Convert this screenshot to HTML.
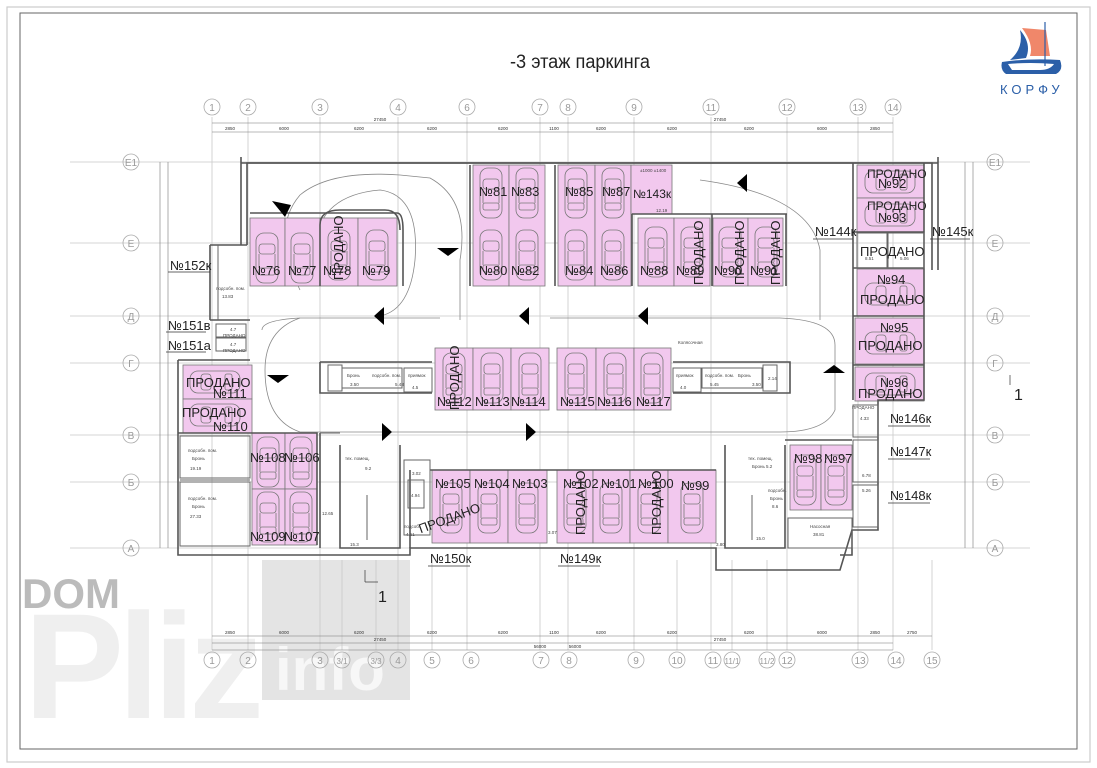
<!DOCTYPE html>
<html><head><meta charset="utf-8"><style>
html,body{margin:0;padding:0;background:#fff;}
svg{display:block;font-family:"Liberation Sans",sans-serif;}
.g{stroke:#c8c8c8;stroke-width:0.8;fill:none}
.w{stroke:#555;stroke-width:1.6;fill:none}
.wt{stroke:#666;stroke-width:1;fill:none}
.p{fill:#f2c8ee;stroke:#777;stroke-width:0.8}
.lb{font-size:13px;fill:#222;}
.sm{font-size:4.5px;fill:#444}
.ax{fill:none;stroke:#aaa;stroke-width:0.8}
.axt{font-size:10px;fill:#999;text-anchor:middle}
.dim{font-size:4.5px;fill:#333;text-anchor:middle}
.car{fill:none;stroke:#777;stroke-width:0.8}
.arc{fill:none;stroke:#888;stroke-width:0.8}
</style></head><body>
<svg width="1097" height="768" viewBox="0 0 1097 768" xmlns="http://www.w3.org/2000/svg">
<defs>
<g id="car"><rect x="-11" y="-25" width="22" height="50" rx="8" class="car"/><rect x="-8" y="-14" width="16" height="10" rx="3" class="car"/><rect x="-8" y="10" width="16" height="7" rx="2" class="car"/><line x1="-8" y1="-4" x2="-8" y2="10" class="car"/><line x1="8" y1="-4" x2="8" y2="10" class="car"/></g>
<g id="carh"><rect x="-25" y="-11" width="50" height="22" rx="8" class="car"/><rect x="-14" y="-8" width="10" height="16" rx="3" class="car"/><rect x="10" y="-8" width="7" height="16" rx="2" class="car"/></g>
</defs>
<!-- frames -->
<rect x="7" y="7" width="1083" height="755" fill="none" stroke="#ccc" stroke-width="1.2"/>
<rect x="20" y="13" width="1057" height="736" fill="none" stroke="#666" stroke-width="1"/>
<!-- watermark -->
<text x="22" y="608" font-size="42" font-weight="bold" fill="#bbb">DOM</text>
<rect x="262" y="560" width="148" height="140" fill="#e4e4e4"/>
<text x="24" y="718" font-size="150" font-weight="bold" fill="#efefef" textLength="240">Pliz</text>
<text x="275" y="690" font-size="60" font-weight="bold" fill="#f7f7f7">info</text>
<!-- title -->
<text x="510" y="68" font-size="19" fill="#222" textLength="140" lengthAdjust="spacingAndGlyphs">-3 этаж  паркинга</text>
<!-- logo -->
<path d="M1022 28 L1046 30 L1050 56 L1030 56 Q1034 44 1022 28Z" fill="#f0876a"/>
<path d="M1020 30 Q1032 44 1026 58 L1010 60 Q1024 48 1020 30Z" fill="#2b5fa8"/>
<path d="M1002 62 Q1030 58 1060 60 Q1064 70 1056 74 L1006 74 Q1000 70 1002 62Z" fill="#2b5fa8"/>
<path d="M1008 64 Q1030 62 1054 64 Q1050 70 1040 70 L1012 70Z" fill="#fff"/>
<line x1="1045" y1="22" x2="1045" y2="66" stroke="#2b5fa8" stroke-width="1.2"/>
<text x="1000" y="94" font-size="13" fill="#2b5fa8" letter-spacing="4">КОРФУ</text>
<!-- grid lines -->
<g class="g">
<line x1="212" y1="117" x2="212" y2="650"/><line x1="248" y1="117" x2="248" y2="650"/><line x1="320" y1="117" x2="320" y2="650"/>
<line x1="398" y1="117" x2="398" y2="650"/><line x1="467" y1="117" x2="467" y2="650"/><line x1="540" y1="117" x2="540" y2="650"/>
<line x1="568" y1="117" x2="568" y2="650"/><line x1="634" y1="117" x2="634" y2="650"/><line x1="711" y1="117" x2="711" y2="650"/>
<line x1="787" y1="117" x2="787" y2="650"/><line x1="858" y1="117" x2="858" y2="650"/><line x1="893" y1="117" x2="893" y2="650"/>
<line x1="342" y1="560" x2="342" y2="650"/><line x1="376" y1="560" x2="376" y2="650"/><line x1="432" y1="560" x2="432" y2="650"/>
<line x1="677" y1="560" x2="677" y2="650"/><line x1="732" y1="560" x2="732" y2="650"/><line x1="767" y1="560" x2="767" y2="650"/><line x1="932" y1="560" x2="932" y2="650"/>
<line x1="70" y1="162" x2="1030" y2="162"/><line x1="70" y1="243" x2="1030" y2="243"/><line x1="70" y1="316" x2="1030" y2="316"/>
<line x1="70" y1="363" x2="1030" y2="363"/><line x1="70" y1="435" x2="1030" y2="435"/><line x1="70" y1="482" x2="1030" y2="482"/><line x1="70" y1="548" x2="1030" y2="548"/>
</g>
<!-- axis bubbles -->
<g class="ax">
<circle cx="212" cy="107" r="8"/><circle cx="248" cy="107" r="8"/><circle cx="320" cy="107" r="8"/><circle cx="398" cy="107" r="8"/><circle cx="467" cy="107" r="8"/><circle cx="540" cy="107" r="8"/><circle cx="568" cy="107" r="8"/><circle cx="634" cy="107" r="8"/><circle cx="711" cy="107" r="8"/><circle cx="787" cy="107" r="8"/><circle cx="858" cy="107" r="8"/><circle cx="893" cy="107" r="8"/>
<circle cx="212" cy="660" r="8"/><circle cx="248" cy="660" r="8"/><circle cx="320" cy="660" r="8"/><circle cx="342" cy="660" r="8"/><circle cx="376" cy="660" r="8"/><circle cx="398" cy="660" r="8"/><circle cx="432" cy="660" r="8"/><circle cx="471" cy="660" r="8"/><circle cx="541" cy="660" r="8"/><circle cx="569" cy="660" r="8"/><circle cx="636" cy="660" r="8"/><circle cx="677" cy="660" r="8"/><circle cx="713" cy="660" r="8"/><circle cx="732" cy="660" r="8"/><circle cx="767" cy="660" r="8"/><circle cx="787" cy="660" r="8"/><circle cx="860" cy="660" r="8"/><circle cx="896" cy="660" r="8"/><circle cx="932" cy="660" r="8"/>
<circle cx="131" cy="162" r="8"/><circle cx="131" cy="243" r="8"/><circle cx="131" cy="316" r="8"/><circle cx="131" cy="363" r="8"/><circle cx="131" cy="435" r="8"/><circle cx="131" cy="482" r="8"/><circle cx="131" cy="548" r="8"/>
<circle cx="995" cy="162" r="8"/><circle cx="995" cy="243" r="8"/><circle cx="995" cy="316" r="8"/><circle cx="995" cy="363" r="8"/><circle cx="995" cy="435" r="8"/><circle cx="995" cy="482" r="8"/><circle cx="995" cy="548" r="8"/>
</g>
<g class="axt">
<text x="212" y="111">1</text><text x="248" y="111">2</text><text x="320" y="111">3</text><text x="398" y="111">4</text><text x="467" y="111">6</text><text x="540" y="111">7</text><text x="568" y="111">8</text><text x="634" y="111">9</text><text x="711" y="111">11</text><text x="787" y="111">12</text><text x="858" y="111">13</text><text x="893" y="111">14</text>
<text x="212" y="664">1</text><text x="248" y="664">2</text><text x="320" y="664">3</text><text x="342" y="664" font-size="8">3/1</text><text x="376" y="664" font-size="8">3/3</text><text x="398" y="664">4</text><text x="432" y="664">5</text><text x="471" y="664">6</text><text x="541" y="664">7</text><text x="569" y="664">8</text><text x="636" y="664">9</text><text x="677" y="664">10</text><text x="713" y="664">11</text><text x="732" y="664" font-size="8">11/1</text><text x="767" y="664" font-size="8">11/2</text><text x="787" y="664">12</text><text x="860" y="664">13</text><text x="896" y="664">14</text><text x="932" y="664">15</text>
<text x="131" y="166">Е1</text><text x="131" y="247">Е</text><text x="131" y="320">Д</text><text x="131" y="367">Г</text><text x="131" y="439">В</text><text x="131" y="486">Б</text><text x="131" y="552">А</text>
<text x="995" y="166">Е1</text><text x="995" y="247">Е</text><text x="995" y="320">Д</text><text x="995" y="367">Г</text><text x="995" y="439">В</text><text x="995" y="486">Б</text><text x="995" y="552">А</text>
</g>
<!-- dimension lines -->
<g stroke="#777" stroke-width="0.6">
<line x1="212" y1="123" x2="893" y2="123"/><line x1="212" y1="132" x2="893" y2="132"/>
<line x1="212" y1="636" x2="932" y2="636"/><line x1="212" y1="643" x2="893" y2="643"/><line x1="212" y1="650" x2="893" y2="650"/>
<line x1="160" y1="162" x2="160" y2="548"/><line x1="168" y1="162" x2="168" y2="548"/>
<line x1="965" y1="162" x2="965" y2="548"/><line x1="973" y1="162" x2="973" y2="548"/>
</g>
<g class="dim">
<text x="380" y="121">27450</text><text x="720" y="121">27450</text>
<text x="230" y="130">2850</text><text x="284" y="130">6000</text><text x="359" y="130">6200</text><text x="432" y="130">6200</text><text x="503" y="130">6200</text><text x="554" y="130">1100</text><text x="601" y="130">6200</text><text x="672" y="130">6200</text><text x="749" y="130">6200</text><text x="822" y="130">6000</text><text x="875" y="130">2850</text>
<text x="230" y="634">2850</text><text x="284" y="634">6000</text><text x="359" y="634">6200</text><text x="432" y="634">6200</text><text x="503" y="634">6200</text><text x="554" y="634">1100</text><text x="601" y="634">6200</text><text x="672" y="634">6200</text><text x="749" y="634">6200</text><text x="822" y="634">6000</text><text x="875" y="634">2850</text><text x="912" y="634">2750</text>
<text x="380" y="641">27450</text><text x="720" y="641">27450</text><text x="540" y="648">56000</text><text x="575" y="648">56000</text>
</g>
<!-- ramps curves -->
<path class="arc" d="M300 290 Q270 230 300 195 Q330 170 400 175 L430 178 Q470 200 460 260 L460 320"/>
<path class="arc" d="M315 245 Q320 195 380 190 Q420 195 415 260 Q410 310 380 316"/>
<path class="arc" d="M262 330 Q262 320 300 318 L440 318"/>
<path class="arc" d="M300 318 Q265 330 265 370 Q265 420 300 432 L440 432"/>
<path class="arc" d="M700 180 Q810 195 820 250 L820 320"/>
<path class="arc" d="M780 318 Q835 320 835 345 L835 410 Q825 432 780 432 L440 432"/>
<path class="arc" d="M550 318 L780 318"/>
<line x1="540" y1="170" x2="540" y2="213" stroke="#888" stroke-width="0.6"/>
<!-- pink spots -->
<g class="p">
<rect x="250" y="218" width="35" height="68"/><rect x="285" y="218" width="35" height="68"/><rect x="320" y="218" width="38" height="68"/><rect x="358" y="218" width="39" height="68"/>
<rect x="473" y="165" width="36" height="121"/><rect x="509" y="165" width="36" height="121"/>
<rect x="558" y="165" width="37" height="121"/><rect x="595" y="165" width="36" height="121"/>
<rect x="631" y="165" width="41" height="49"/>
<rect x="638" y="218" width="36" height="68"/><rect x="674" y="218" width="36" height="68"/><rect x="713" y="218" width="35" height="68"/><rect x="748" y="218" width="35" height="68"/>
<rect x="857" y="165" width="67" height="33"/><rect x="857" y="198" width="67" height="34"/>
<rect x="857" y="269" width="67" height="47"/><rect x="855" y="318" width="69" height="46"/><rect x="855" y="367" width="69" height="34"/>
<rect x="435" y="348" width="38" height="62"/><rect x="473" y="348" width="38" height="62"/><rect x="511" y="348" width="38" height="62"/>
<rect x="557" y="348" width="39" height="62"/><rect x="596" y="348" width="38" height="62"/><rect x="634" y="348" width="37" height="62"/>
<rect x="183" y="365" width="69" height="34"/><rect x="183" y="399" width="69" height="34"/>
<rect x="252" y="433" width="33" height="56"/><rect x="285" y="433" width="32" height="56"/><rect x="252" y="489" width="33" height="56"/><rect x="285" y="489" width="32" height="56"/>
<rect x="432" y="470" width="38" height="73"/><rect x="470" y="470" width="38" height="73"/><rect x="508" y="470" width="39" height="73"/>
<rect x="557" y="470" width="36" height="73"/><rect x="593" y="470" width="37" height="73"/><rect x="630" y="470" width="38" height="73"/><rect x="668" y="470" width="48" height="73"/>
<rect x="790" y="445" width="31" height="65"/><rect x="821" y="445" width="31" height="65"/>
</g>
<!-- cars -->
<g>
<use href="#car" x="267" y="258"/><use href="#car" x="302" y="258"/><use href="#car" x="339" y="255"/><use href="#car" x="377" y="255"/>
<use href="#car" x="491" y="193"/><use href="#car" x="527" y="193"/><use href="#car" x="491" y="255"/><use href="#car" x="527" y="255"/>
<use href="#car" x="576" y="193"/><use href="#car" x="613" y="193"/><use href="#car" x="576" y="255"/><use href="#car" x="613" y="255"/>
<use href="#car" x="656" y="252"/><use href="#car" x="692" y="252"/><use href="#car" x="730" y="252"/><use href="#car" x="766" y="252"/>
<use href="#carh" x="890" y="182"/><use href="#carh" x="890" y="215"/><use href="#carh" x="890" y="294"/><use href="#carh" x="890" y="343"/><use href="#carh" x="890" y="384"/>
<use href="#car" x="454" y="378"/><use href="#car" x="492" y="378"/><use href="#car" x="530" y="378"/><use href="#car" x="576" y="378"/><use href="#car" x="615" y="378"/><use href="#car" x="652" y="378"/>
<use href="#carh" x="215" y="382"/><use href="#carh" x="215" y="415"/>
<use href="#car" x="268" y="462"/><use href="#car" x="301" y="462"/><use href="#car" x="268" y="517"/><use href="#car" x="301" y="517"/>
<use href="#car" x="451" y="508"/><use href="#car" x="489" y="508"/><use href="#car" x="527" y="508"/><use href="#car" x="575" y="508"/><use href="#car" x="611" y="508"/><use href="#car" x="649" y="508"/><use href="#car" x="692" y="508"/>
<use href="#car" x="805" y="480"/><use href="#car" x="836" y="480"/>
</g>
<!-- walls -->
<g class="w">
<path d="M247 245 L247 163 L932 163 L932 270"/>
<path d="M241 163 L938 163 M241 157 L241 245 M938 157 L938 270"/>
<path d="M210 245 L247 245 M210 245 L210 320 M178 360 L178 555 L320 555 M210 320 L250 320"/>
<path d="M178 360 L250 360 M178 433 L252 433"/>
<path d="M250 213 L397 213 Q403 213 403 230 L403 286"/>
<path d="M320 286 L320 225 Q320 210 340 210 L385 210 Q400 210 400 230"/>
<path d="M470 165 L470 286 M555 165 L555 286 M632 214 L632 286 M712 214 L712 286 M786 214 L786 286"/>
<path d="M632 214 L787 214"/>
<path d="M853 163 L853 400 M853 232 L924 232 M853 268 L924 268 M853 316 L924 316 M853 365 L924 365"/>
<path d="M924 163 L924 400 L878 400 L878 530 L852 530 L852 555 L840 555"/>
<path d="M320 555 L410 555 L410 548 L716 548 L716 570 L840 570 L852 530"/>
<path d="M320 362 L432 362 M320 362 L320 393 L432 393 M673 362 L790 362 L790 393 L673 393"/>
<path d="M320 433 L320 548 M340 445 L340 548 L400 548 L400 445 M410 470 L410 548 M430 470 L716 470"/>
<path d="M725 445 L725 548 L785 548 L785 445 M785 440 L852 440"/>
<path d="M252 433 L317 433 L317 545"/>
</g>
<g class="wt">
<path d="M218 245 L218 320 M180 480 L250 480 M320 433 L340 433"/>
<rect x="216" y="324" width="30" height="13"/><rect x="216" y="338" width="30" height="13"/>
<rect x="328" y="365" width="14" height="26"/><rect x="342" y="368" width="60" height="20"/><rect x="404" y="368" width="28" height="24"/>
<rect x="673" y="368" width="28" height="24"/><rect x="702" y="368" width="60" height="20"/><rect x="763" y="365" width="14" height="26"/>
<rect x="404" y="460" width="26" height="75"/><rect x="408" y="480" width="16" height="28"/>
<rect x="788" y="518" width="64" height="30"/>
<rect x="857" y="233" width="30" height="35"/><rect x="888" y="233" width="36" height="35"/>
<rect x="853" y="405" width="25" height="32"/><rect x="853" y="440" width="25" height="42"/><rect x="853" y="485" width="25" height="42"/>
<line x1="367" y1="495" x2="367" y2="540"/><line x1="752" y1="495" x2="752" y2="540"/>
<rect x="180" y="436" width="70" height="42"/><rect x="180" y="482" width="70" height="64"/>
</g>
<!-- small texts -->
<g class="sm">
<text x="216" y="290">подсобн. пом.</text><text x="222" y="298">13.83</text>
<text x="230" y="331">4.7</text><text x="223" y="337">ПРОДАНО</text><text x="230" y="346">4.7</text><text x="223" y="352">ПРОДАНО</text>
<text x="347" y="377">Бронь</text><text x="372" y="377">подсобн. пом.</text><text x="350" y="386">3.50</text><text x="395" y="386">5.48</text><text x="408" y="377">приямок</text><text x="412" y="389">4.5</text>
<text x="676" y="377">приямок</text><text x="680" y="389">4.0</text><text x="705" y="377">подсобн. пом.</text><text x="738" y="377">Бронь</text><text x="710" y="386">5.45</text><text x="752" y="386">3.50</text><text x="768" y="380">2.14</text>
<text x="678" y="344">Колясочная</text>
<text x="188" y="452">подсобн. пом.</text><text x="192" y="460">Бронь</text><text x="190" y="470">19.19</text>
<text x="188" y="500">подсобн. пом.</text><text x="192" y="508">Бронь</text><text x="190" y="518">27.33</text>
<text x="345" y="460">тех. помещ.</text><text x="365" y="470">9.2</text><text x="322" y="515">12.65</text>
<text x="748" y="460">тех. помещ.</text><text x="752" y="468">Бронь 5.2</text><text x="768" y="492">подсобн.</text><text x="770" y="500">Бронь</text><text x="772" y="508">8.6</text>
<text x="810" y="528">Насосная</text><text x="813" y="536">38.81</text>
<text x="865" y="260">8.51</text><text x="900" y="260">5.06</text>
<text x="852" y="409">ПРОДАНО</text><text x="860" y="420">4.33</text><text x="862" y="477">6.78</text><text x="862" y="492">5.26</text>
<text x="412" y="475">3.02</text><text x="411" y="497">4.94</text><text x="404" y="528">подсоб.</text><text x="406" y="536">4.51</text>
<text x="548" y="534">3.07</text><text x="716" y="546">3.80</text><text x="756" y="540">15.0</text><text x="350" y="546">15.3</text>
<text x="640" y="172">±1000 ±1400</text><text x="656" y="212">12.19</text>
</g>
<!-- labels -->
<g class="lb">
<text x="252" y="275">№76</text><text x="288" y="275">№77</text><text x="323" y="275">№78</text><text x="362" y="275">№79</text>
<text x="479" y="196">№81</text><text x="511" y="196">№83</text><text x="479" y="275">№80</text><text x="511" y="275">№82</text>
<text x="565" y="196">№85</text><text x="602" y="196">№87</text><text x="565" y="275">№84</text><text x="600" y="275">№86</text>
<text x="633" y="198" font-size="12">№143к</text>
<text x="640" y="275">№88</text><text x="676" y="275">№89</text><text x="714" y="275">№90</text><text x="750" y="275">№91</text>
<text x="867" y="178" font-size="12">ПРОДАНО</text><text x="878" y="188">№92</text>
<text x="867" y="210" font-size="12">ПРОДАНО</text><text x="878" y="222">№93</text>
<text x="860" y="256">ПРОДАНО</text><text x="877" y="284">№94</text><text x="860" y="304">ПРОДАНО</text>
<text x="880" y="332">№95</text><text x="858" y="350">ПРОДАНО</text>
<text x="880" y="387">№96</text><text x="858" y="398">ПРОДАНО</text>
<text x="437" y="406">№112</text><text x="475" y="406">№113</text><text x="511" y="406">№114</text><text x="560" y="406">№115</text><text x="597" y="406">№116</text><text x="636" y="406">№117</text>
<text x="186" y="387">ПРОДАНО</text><text x="213" y="398">№111</text>
<text x="182" y="417">ПРОДАНО</text><text x="213" y="431">№110</text>
<text x="250" y="462">№108</text><text x="284" y="462">№106</text><text x="250" y="541">№109</text><text x="284" y="541">№107</text>
<text x="435" y="488">№105</text><text x="474" y="488">№104</text><text x="512" y="488">№103</text><text x="563" y="488">№102</text><text x="601" y="488">№101</text><text x="638" y="488">№100</text><text x="681" y="490">№99</text>
<text x="794" y="463">№98</text><text x="824" y="463">№97</text>
<text x="170" y="270">№152к</text><text x="168" y="330">№151в</text><text x="168" y="350">№151а</text>
<text x="815" y="236">№144к</text><text x="932" y="236">№145к</text>
<text x="890" y="423">№146к</text><text x="890" y="456">№147к</text><text x="890" y="500">№148к</text>
<text x="430" y="563">№150к</text><text x="560" y="563">№149к</text>
<text x="1014" y="400" font-size="16">1</text><text x="378" y="602" font-size="16">1</text>
</g>
<!-- rotated ПРОДАНО -->
<g class="lb">
<text transform="translate(343,250) rotate(-90)" x="-30" y="0">ПРОДАНО</text>
<text transform="translate(703,255) rotate(-90)" x="-30" y="0">ПРОДАНО</text>
<text transform="translate(744,255) rotate(-90)" x="-30" y="0">ПРОДАНО</text>
<text transform="translate(780,255) rotate(-90)" x="-30" y="0">ПРОДАНО</text>
<text transform="translate(459,380) rotate(-90)" x="-30" y="0">ПРОДАНО</text>
<text transform="translate(585,505) rotate(-90)" x="-30" y="0">ПРОДАНО</text>
<text transform="translate(661,505) rotate(-90)" x="-30" y="0">ПРОДАНО</text>
<text transform="translate(430,530) rotate(-20)" x="-10" y="0">ПРОДАНО</text>
</g>
<g stroke="#333" stroke-width="0.7">
<line x1="168" y1="272" x2="210" y2="272"/><line x1="166" y1="332" x2="206" y2="332"/><line x1="166" y1="352" x2="206" y2="352"/>
<line x1="813" y1="239" x2="853" y2="239"/><line x1="930" y1="239" x2="970" y2="239"/>
<line x1="888" y1="426" x2="930" y2="426"/><line x1="888" y1="459" x2="930" y2="459"/><line x1="888" y1="503" x2="930" y2="503"/>
<line x1="428" y1="566" x2="470" y2="566"/><line x1="558" y1="566" x2="600" y2="566"/>
<line x1="1010" y1="375" x2="1010" y2="385"/><line x1="365" y1="570" x2="365" y2="582"/><line x1="365" y1="582" x2="378" y2="582"/>
</g>
<!-- direction arrows -->
<g fill="#000">
<polygon points="272,201 291,205 285,217"/>
<polygon points="267,375 289,375 278,383"/>
<polygon points="437,248 459,248 448,256"/>
<polygon points="374,316 384,307 384,325"/>
<polygon points="519,316 529,307 529,325"/>
<polygon points="638,316 648,307 648,325"/>
<polygon points="737,183 747,174 747,192"/>
<polygon points="823,373 845,373 834,365"/>
<polygon points="392,432 382,423 382,441"/>
<polygon points="536,432 526,423 526,441"/>
</g>
</svg>
</body></html>
